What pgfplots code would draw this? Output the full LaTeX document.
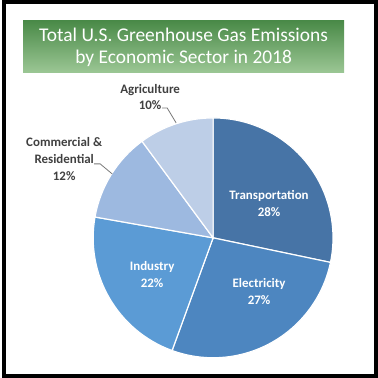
\documentclass[border=0pt]{standalone}
\usepackage{fontspec}
\setmainfont{Carlito}
\usepackage{pgfplots}
\usepackage{pgfplotstable}
\pgfplotsset{compat=1.18}

\definecolor{cTrans}{HTML}{4774A6}
\definecolor{cElec}{HTML}{4D86C0}
\definecolor{cInd}{HTML}{5B9BD5}
\definecolor{cComm}{HTML}{9DB9E0}
\definecolor{cAgri}{HTML}{BDCEE7}
\definecolor{gTop}{HTML}{4A8A48}
\definecolor{gBot}{HTML}{9CC795}
\definecolor{lbl}{HTML}{404040}

\pgfplotstableread{
sector         value col
Transportation 28    cTrans
Electricity    27    cElec
Industry       22    cInd
Commercial     12    cComm
Agriculture    10    cAgri
}\piedata

\begin{document}
% cumulative angles (clockwise from the top), normalised to the 99 % shown
\def\acc{90}
\pgfplotsforeachungrouped \i in {0,...,4}{%
  \pgfplotstablegetelem{\i}{value}\of\piedata
  \pgfmathsetmacro\endang{\acc - \pgfplotsretval*360/99}%
  \expandafter\xdef\csname wS\i\endcsname{\acc}%
  \expandafter\xdef\csname wE\i\endcsname{\endang}%
  \xdef\acc{\endang}%
  \pgfplotstablegetelem{\i}{col}\of\piedata
  \expandafter\xdef\csname wC\i\endcsname{\pgfplotsretval}%
}%
\begin{tikzpicture}
\begin{axis}[
  x=1bp, y=1bp,
  xmin=0, xmax=376, ymin=0, ymax=378,
  hide axis, clip=false,
]
\path (axis cs:0,0) rectangle (axis cs:376,378);
% title banner
\shade[top color=gTop, bottom color=gBot] (axis cs:21,305) rectangle (axis cs:342,357);
\node[text=white, font=\fontsize{19.5}{22}\selectfont, align=center] at (axis cs:181.5,331)
  {Total U.S. Greenhouse Gas Emissions\\by Economic Sector in 2018};
% pie wedges
\pgfplotsinvokeforeach{0,...,4}{%
  \edef\tmp{\noexpand\fill[fill=\csname wC#1\endcsname, draw=white, line width=1.2bp]
    (axis cs:211,140) -- ++(\csname wS#1\endcsname:120bp)
    arc[start angle=\csname wS#1\endcsname, end angle=\csname wE#1\endcsname, radius=120bp] -- cycle;}%
  \tmp
}
% labels inside
\node[text=white, font=\bfseries\fontsize{13}{17}\selectfont, align=center] at (axis cs:267,174.5) {Transportation\\28\%};
\node[text=white, font=\bfseries\fontsize{13}{17}\selectfont, align=center] at (axis cs:257,86.5) {Electricity\\27\%};
\node[text=white, font=\bfseries\fontsize{13}{17}\selectfont, align=center] at (axis cs:150,103) {Industry\\22\%};
% labels outside
\node[text=lbl, font=\bfseries\fontsize{13}{16.5}\selectfont, align=center] at (axis cs:148,281) {Agriculture\\10\%};
\node[text=lbl, font=\bfseries\fontsize{13}{17}\selectfont, align=center] at (axis cs:62,219) {Commercial \&\\Residential\\12\%};
\draw[lbl!70, line width=0.8bp] (axis cs:160,270) -- (axis cs:165,270) -- (axis cs:174,255);
\draw[lbl!70, line width=0.8bp] (axis cs:92,214) -- (axis cs:98,214) -- (axis cs:110,204);
% frame
\draw[black, line width=4bp] (axis cs:2,2) rectangle (axis cs:374,376);
\end{axis}
\end{tikzpicture}
\end{document}
